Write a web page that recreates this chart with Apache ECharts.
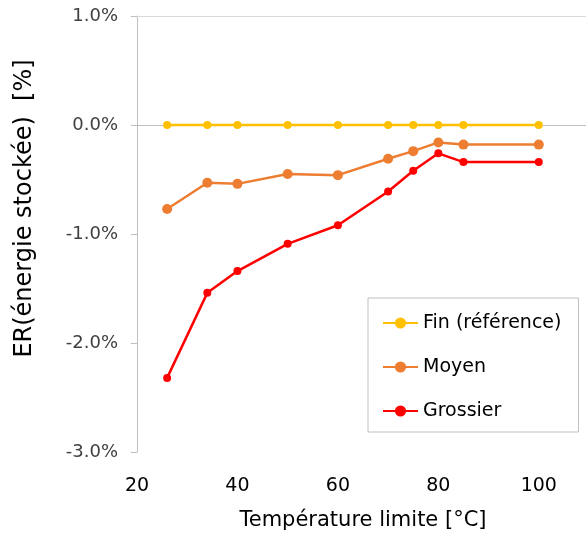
<!DOCTYPE html>
<html><head><meta charset="utf-8">
<script src="https://cdn.jsdelivr.net/npm/echarts@6/dist/echarts.min.js"></script>
<style>html,body{margin:0;padding:0;background:#fff}#c{width:586px;height:536px}</style>
</head><body><div id="c"></div>
<script>
const temperatures = [26, 34, 40, 50, 60, 70, 75, 80, 85, 100];
const finRef = [0, 0, 0, 0, 0, 0, 0, 0, 0, 0];
const moyen = [-0.77, -0.53, -0.54, -0.45, -0.46, -0.31, -0.24, -0.16, -0.18, -0.18];
const grossier = [-2.32, -1.54, -1.34, -1.09, -0.92, -0.61, -0.42, -0.26, -0.34, -0.34];
const seriesNames = ['Fin (référence)', 'Moyen', 'Grossier'];
const xTitle = 'Température limite [°C]';
const yTitle = 'ER(énergie stockée)  [%]';

const pair = (ys) => temperatures.map((t, i) => [t, ys[i]]);
const chart = echarts.init(document.getElementById('c'), null, {renderer: 'canvas'});
chart.setOption({
  animation: false,
  backgroundColor: '#fff',
  grid: {left: 137, width: 452, top: 16, bottom: 84, containLabel: false, outerBoundsMode: 'none'},
  xAxis: {
    type: 'value', min: 20, max: 110, interval: 20,
    axisLine: {show: true, lineStyle: {color: '#d9d9d9', width: 1}},
    axisTick: {show: false},
    splitLine: {show: false},
    axisLabel: {margin: 25, fontSize: 19, color: '#000', fontFamily: 'DejaVu Sans',
      formatter: v => (v > 100 ? '' : String(v))},
    name: xTitle, nameLocation: 'middle', nameGap: 58,
    nameTextStyle: {fontSize: 21, color: '#000', fontFamily: 'DejaVu Sans'}
  },
  yAxis: {
    type: 'value', min: -3, max: 1, interval: 1,
    axisLine: {show: true, onZero: false, lineStyle: {color: '#bfbfbf', width: 1}},
    axisTick: {show: true, inside: false, length: 6, lineStyle: {color: '#bfbfbf'}},
    splitLine: {show: false},
    axisLabel: {margin: 19, fontSize: 18, color: '#404040', fontFamily: 'DejaVu Sans',
      formatter: v => v.toFixed(1) + '%'},
    name: yTitle, nameLocation: 'middle', nameGap: 100,
    nameTextStyle: {fontSize: 24, color: '#000', fontFamily: 'DejaVu Sans', padding: [0, 0, 0, 51]}
  },
  legend: {
    orient: 'vertical', left: 368, top: 298,
    padding: [15, 17, 11, 14],
    itemGap: 24, itemWidth: 35, itemHeight: 14,
    backgroundColor: '#fff', borderColor: '#bfbfbf', borderWidth: 1,
    textStyle: {fontSize: 19, color: '#000', fontFamily: 'DejaVu Sans', lineHeight: 20},
    data: seriesNames
  },
  series: [
    {name: seriesNames[0], type: 'line', data: pair(finRef), symbol: 'circle', symbolSize: 8,
      color: '#ffc000', lineStyle: {width: 2.5, color: '#ffc000'}, z: 3,
      markLine: {silent: true, symbol: 'none', label: {show: false}, z: 1,
        data: [
          {yAxis: 1, lineStyle: {color: '#d9d9d9', width: 1, type: 'solid'}},
          {yAxis: 0, lineStyle: {color: '#bfbfbf', width: 1, type: 'solid'}}
        ]}},
    {name: seriesNames[1], type: 'line', data: pair(moyen), symbol: 'circle', symbolSize: 10,
      color: '#ed7d31', lineStyle: {width: 2.5, color: '#ed7d31'}, z: 4},
    {name: seriesNames[2], type: 'line', data: pair(grossier), symbol: 'circle', symbolSize: 8,
      color: '#ff0000', lineStyle: {width: 2.5, color: '#ff0000'}, z: 5}
  ]
});
</script></body></html>
